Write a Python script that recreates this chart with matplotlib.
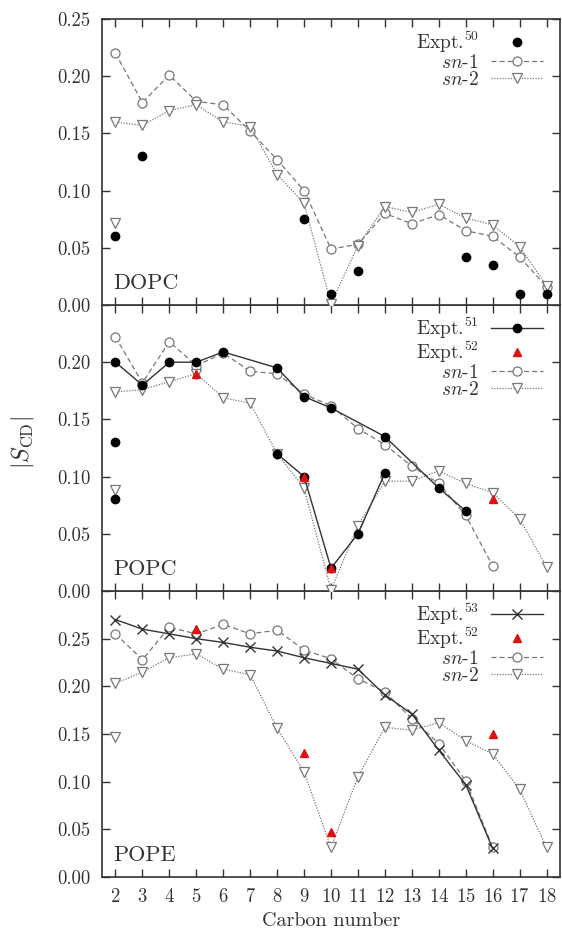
import matplotlib
matplotlib.use("Agg")
import matplotlib.pyplot as plt
from matplotlib.ticker import FormatStrFormatter

plt.rcParams['font.family'] = ['cmr10', 'DejaVu Serif']
plt.rcParams['mathtext.fontset'] = 'cm'
plt.rcParams['axes.formatter.use_mathtext'] = True

carbons = list(range(2, 19))

# DOPC
dopc_sn1 = [0.220, 0.177, 0.201, 0.178, 0.175, 0.152, 0.127, 0.100, 0.049,
            0.053, 0.080, 0.071, 0.079, 0.065, 0.060, 0.042, 0.016]
dopc_sn2 = [0.160, 0.157, 0.170, 0.175, 0.160, 0.156, 0.114, 0.089, 0.001,
            0.052, 0.086, 0.081, 0.088, 0.076, 0.070, 0.051, 0.017]
dopc_sn2_c2b = 0.072
dopc_expt_c = [2, 3, 9, 10, 11, 15, 16, 17, 18]
dopc_expt = [0.060, 0.130, 0.075, 0.010, 0.030, 0.042, 0.035, 0.010, 0.010]

# POPC
popc_sn1_c = list(range(2, 17))
popc_sn1 = [0.222, 0.182, 0.218, 0.197, 0.208, 0.192, 0.190, 0.172, 0.162,
            0.142, 0.128, 0.109, 0.094, 0.066, 0.022]
popc_sn2 = [0.174, 0.176, 0.183, 0.190, 0.169, 0.164, 0.120, 0.090, 0.001,
            0.057, 0.096, 0.096, 0.105, 0.094, 0.086, 0.063, 0.021]
popc_sn2_c2b = 0.088
popc_e51_c = [2, 3, 4, 5, 6, 8, 9, 10, 12, 14, 15]
popc_e51 = [0.200, 0.180, 0.200, 0.200, 0.209, 0.195, 0.170, 0.160, 0.135,
            0.090, 0.070]
popc_e51b_c = [8, 9, 10, 11, 12]
popc_e51b = [0.120, 0.100, 0.020, 0.050, 0.103]
popc_e51_c2 = [0.130, 0.080]
popc_e52_c = [5, 9, 10, 16]
popc_e52 = [0.190, 0.100, 0.020, 0.080]

# POPE
pope_sn1_c = list(range(2, 17))
pope_sn1 = [0.255, 0.228, 0.262, 0.255, 0.265, 0.255, 0.259, 0.238, 0.229,
            0.208, 0.194, 0.166, 0.140, 0.101, 0.031]
pope_sn2 = [0.203, 0.215, 0.230, 0.234, 0.218, 0.212, 0.156, 0.110, 0.031,
            0.105, 0.157, 0.154, 0.162, 0.143, 0.129, 0.092, 0.031]
pope_sn2_c2b = 0.147
pope_e53_c = list(range(2, 17))
pope_e53 = [0.270, 0.260, 0.255, 0.250, 0.246, 0.241, 0.237, 0.230, 0.224,
            0.218, 0.191, 0.171, 0.133, 0.097, 0.030]
pope_e52_c = [5, 9, 10, 16]
pope_e52 = [0.260, 0.130, 0.047, 0.150]

grey = '#777777'
dark = '#333333'
red = '#dd1111'


def sn_lines(ax, xs1, y1, y2, c2b):
    ax.plot(xs1, y1, ls=(0, (4, 2.5)), lw=0.9, color=grey, marker='o', ms=6.5,
            mfc='white', mec=grey, mew=0.9, label='$sn$-1', zorder=3)
    ax.plot(carbons, y2, ls=(0, (1, 1.2)), lw=0.9, color=grey, marker='v', ms=6.5,
            mfc='white', mec=grey, mew=0.9, label='$sn$-2', zorder=3)
    ax.plot([2], [c2b], ls='none', marker='v', ms=6.5, mfc='white', mec=grey,
            mew=0.9, zorder=3)


fig = plt.figure(figsize=(5.62, 9.34), dpi=100)
left, width = 102 / 562, 458 / 562
ph = 286 / 934
bottom0 = 57 / 934
ax3 = fig.add_axes([left, bottom0, width, ph])
ax2 = fig.add_axes([left, bottom0 + ph, width, ph])
ax1 = fig.add_axes([left, bottom0 + 2 * ph, width, ph])

# DOPC
ax1.plot(dopc_expt_c, dopc_expt, ls='none', marker='o', ms=6, color='black',
         label='Expt.$^{50}$', zorder=4)
sn_lines(ax1, carbons, dopc_sn1, dopc_sn2, dopc_sn2_c2b)

# POPC
ax2.plot(popc_e51_c, popc_e51, ls='-', lw=1.0, color=dark, marker='o', ms=6,
         mfc='black', mec='black', label='Expt.$^{51}$', zorder=4)
ax2.plot(popc_e51b_c, popc_e51b, ls='-', lw=1.0, color=dark, marker='o', ms=6,
         mfc='black', mec='black', zorder=4)
ax2.plot([2, 2], popc_e51_c2, ls='none', marker='o', ms=6, color='black',
         zorder=4)
ax2.plot(popc_e52_c, popc_e52, ls='none', marker='^', ms=5.5, color=red,
         label='Expt.$^{52}$', zorder=5)
sn_lines(ax2, popc_sn1_c, popc_sn1, popc_sn2, popc_sn2_c2b)

# POPE
ax3.plot(pope_e53_c, pope_e53, ls='-', lw=1.0, color=dark, marker='x', ms=7,
         mew=1.0, label='Expt.$^{53}$', zorder=4)
ax3.plot(pope_e52_c, pope_e52, ls='none', marker='^', ms=5.5, color=red,
         label='Expt.$^{52}$', zorder=5)
sn_lines(ax3, pope_sn1_c, pope_sn1, pope_sn2, pope_sn2_c2b)

names = ['DOPC', 'POPC', 'POPE']
ylims = [0.25, 0.25, 0.30]
yticks = [[0.0, 0.05, 0.10, 0.15, 0.20, 0.25],
          [0.0, 0.05, 0.10, 0.15, 0.20],
          [0.0, 0.05, 0.10, 0.15, 0.20, 0.25]]
for ax, name, ym, yt in zip([ax1, ax2, ax3], names, ylims, yticks):
    ax.set_xlim(1.5, 18.5)
    ax.set_ylim(0, ym)
    ax.set_xticks(carbons)
    ax.set_yticks(yt)
    ax.yaxis.set_major_formatter(FormatStrFormatter('%.2f'))
    ax.tick_params(direction='in', top=True, right=True, length=6,
                   width=1.0, labelsize=13.5, color=dark, pad=8)
    for s in ax.spines.values():
        s.set_linewidth(1.2)
        s.set_color(dark)
    ax.text(0.024, 0.056, name, transform=ax.transAxes, fontsize=16,
            ha='left', va='baseline', color=dark)
    leg = ax.legend(loc='upper right', bbox_to_anchor=(0.963, 0.963),
                    frameon=False, markerfirst=False,
                    fontsize=14, handlelength=2.7, borderpad=0.0,
                    borderaxespad=0.0, labelspacing=-0.05, handletextpad=0.6)
    for t in leg.get_texts():
        t.set_color(dark)
    for lab in ax.get_yticklabels():
        lab.set_color(dark)

ax1.tick_params(labelbottom=False)
ax2.tick_params(labelbottom=False)
for lab in ax3.get_xticklabels():
    lab.set_color(dark)
ax3.set_xlabel('Carbon number', fontsize=14.5, color=dark, labelpad=4)
fig.text(0.04, 0.526, r'$|S_{\rm CD}|$', rotation=90, fontsize=17,
         ha='center', va='center', color=dark)

fig.savefig('out.png', dpi=100)
